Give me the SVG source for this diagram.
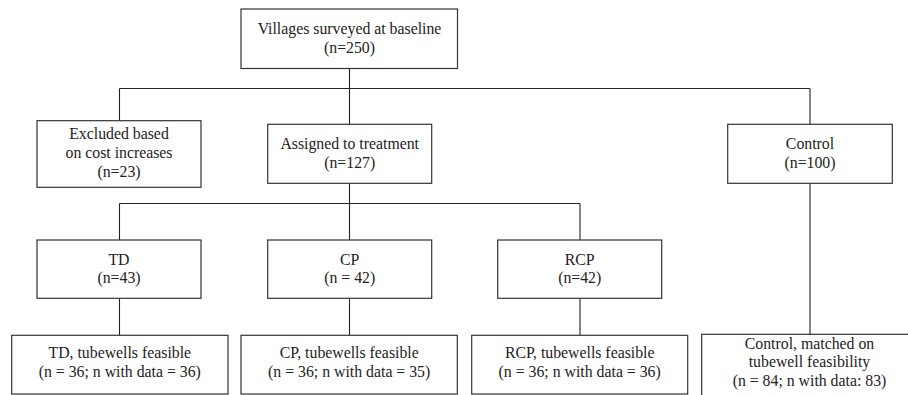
<svg xmlns="http://www.w3.org/2000/svg" width="908" height="395" viewBox="0 0 908 395">
<style>
.box{fill:#fff;stroke:#333;stroke-width:1.2}
.ln{fill:none;stroke:#222;stroke-width:1.1}
text{font-family:'Liberation Serif','Times New Roman',Times,'DejaVu Serif',serif;font-size:15.8px;fill:#222;text-anchor:middle}
</style>
<rect width="908" height="395" fill="#fff"/>
<g id="connectors">
<path class="ln" d="M349.5 68.5V124.5M119.5 88.5H810M119.5 88.5V120.5M810 88.5V124.5"/>
<path class="ln" d="M349.5 183.5V240M119.5 203.5H580M119.5 203.5V240M580 203.5V240"/>
<path class="ln" d="M810 183.5V334.5M119.5 298.5V335.5M349.5 298.5V335.5M580 298.5V335.5"/>
</g>
<g font-family="Liberation Serif, Times New Roman, serif">
<g id="baseline">
<rect class="box" x="241" y="9" width="216.5" height="59.5"/>
<text x="349.5" y="33.5">Villages surveyed at baseline</text>
<text x="349.5" y="53">(n=250)</text>
</g>
<g id="excluded">
<rect class="box" x="37" y="120.7" width="164" height="66.6"/>
<text x="119" y="138.5">Excluded based</text>
<text x="119" y="157.5">on cost increases</text>
<text x="119" y="177">(n=23)</text>
</g>
<g id="assigned">
<rect class="box" x="267.7" y="124.3" width="164" height="59"/>
<text x="349.7" y="148.5">Assigned to treatment</text>
<text x="349.7" y="167.5">(n=127)</text>
</g>
<g id="control">
<rect class="box" x="727.7" y="124.3" width="164.6" height="59"/>
<text x="810" y="148.5">Control</text>
<text x="810" y="167.5">(n=100)</text>
</g>
<g id="td">
<rect class="box" x="37" y="240" width="164" height="58.3"/>
<text x="119" y="264.5">TD</text>
<text x="119" y="283">(n=43)</text>
</g>
<g id="cp">
<rect class="box" x="267.7" y="240" width="164" height="58.3"/>
<text x="349.7" y="264.5">CP</text>
<text x="349.7" y="283">(n = 42)</text>
</g>
<g id="rcp">
<rect class="box" x="497.7" y="240" width="164" height="58.3"/>
<text x="579.7" y="264.5">RCP</text>
<text x="579.7" y="283">(n=42)</text>
</g>
<g id="td-feasible">
<rect class="box" x="11.7" y="335.3" width="216.3" height="58.7"/>
<text x="119.8" y="357.5">TD, tubewells feasible</text>
<text x="119.8" y="377">(n = 36; n with data = 36)</text>
</g>
<g id="cp-feasible">
<rect class="box" x="241" y="335.3" width="216.3" height="58.7"/>
<text x="349.2" y="357.5">CP, tubewells feasible</text>
<text x="349.2" y="377">(n = 36; n with data = 35)</text>
</g>
<g id="rcp-feasible">
<rect class="box" x="471.7" y="335.3" width="216" height="58.7"/>
<text x="579.7" y="357.5">RCP, tubewells feasible</text>
<text x="579.7" y="377">(n = 36; n with data = 36)</text>
</g>
<g id="control-matched">
<rect class="box" x="701.7" y="334.3" width="216" height="70"/>
<text x="809.5" y="348.5">Control, matched on</text>
<text x="809.5" y="367">tubewell feasibility</text>
<text x="809.5" y="385.5">(n = 84; n with data: 83)</text>
</g>
</g>
</svg>
